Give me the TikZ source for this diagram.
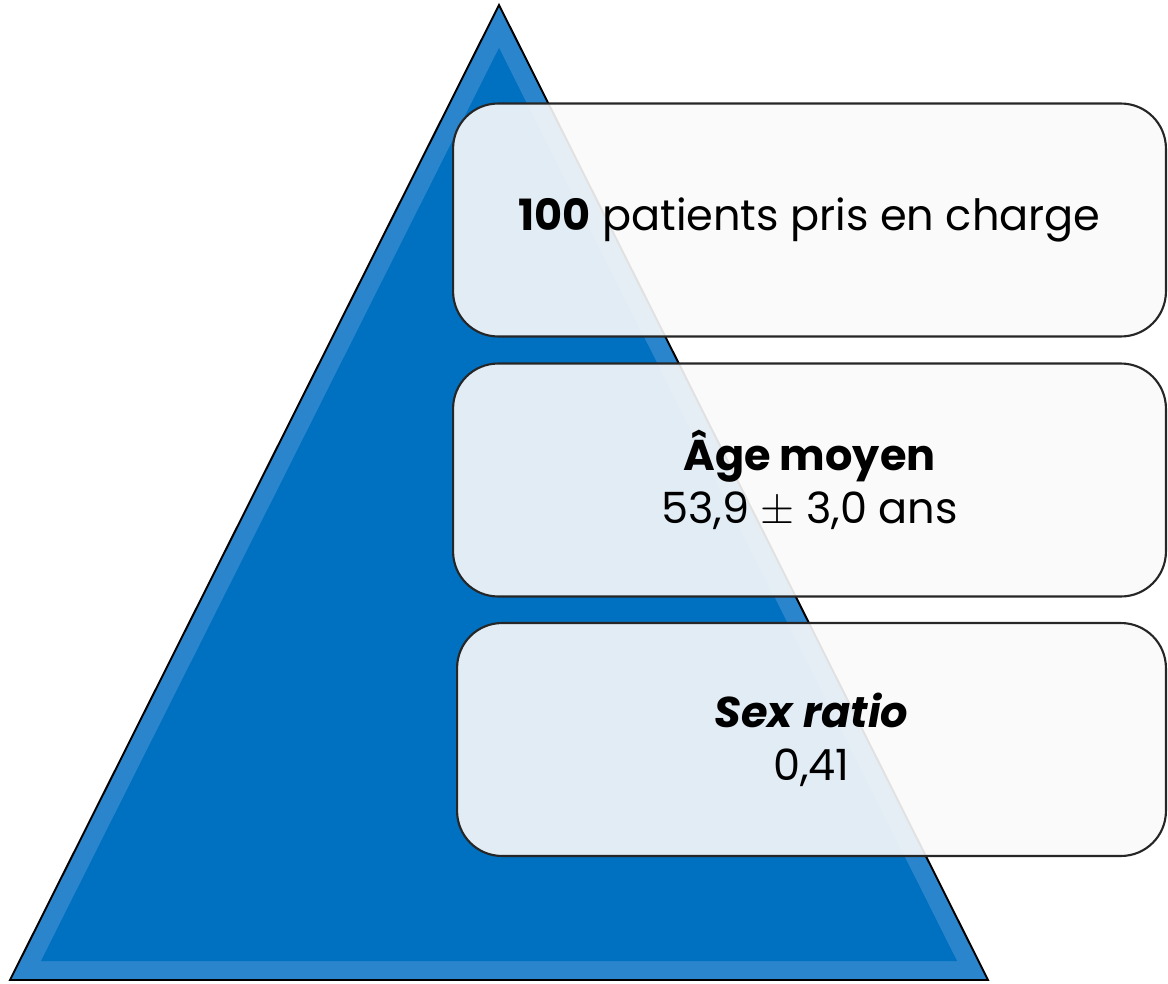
\documentclass[tikz,border=0pt]{standalone}
\usepackage{fontspec}
\setmainfont{Poppins}
\usepackage{tikz}
\usetikzlibrary{positioning}

\definecolor{pyrblue}{HTML}{0070C0}
\definecolor{pyredge}{HTML}{2A85CC}

\begin{document}
\begin{tikzpicture}[x=0.02cm,y=-0.02cm,
   infobox/.style={draw=black!85,line width=1.2pt,rounded corners=0.9cm,
      fill=black!2,fill opacity=0.9,text opacity=1,align=center,
      minimum width=14.26cm,minimum height=4.66cm,inner sep=0pt,
      font=\fontsize{24.5}{30}\selectfont}]
   \useasboundingbox (0,0) rectangle (1168,983);
   % pyramid with bevel
   \coordinate (top) at (499,5);
   \coordinate (bl) at (10,980);
   \coordinate (br) at (988,980);
   \fill[pyredge] (top) -- (bl) -- (br) -- cycle;
   \fill[pyrblue] (499,48) -- (41,961) -- (957,961) -- cycle;
   \draw[line width=1.1pt,line join=miter] (top) -- (bl) -- (br) -- cycle;
   % boxes
   \node[infobox] (patients) at (809.5,220) {\textbf{100} patients pris en charge};
   \node[infobox] (age) at (809.5,480) {\textbf{Âge moyen}\\53,9 $\pm$ 3,0 ans};
   \node[infobox,minimum width=14.18cm] (sexratio) at (811.5,739.5) {\textbf{\textit{Sex ratio}}\\0,41};
\end{tikzpicture}
\end{document}
